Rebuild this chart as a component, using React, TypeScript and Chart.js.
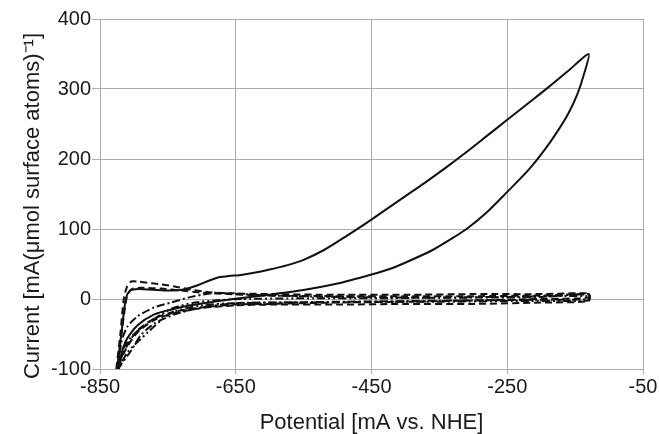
import React, { useEffect, useRef } from "react";
import { Chart, registerables } from "chart.js";

Chart.register(...registerables);

const xTicks = [-850, -650, -450, -250, -50];
const yTicks = [-100, 0, 100, 200, 300, 400];
const xTitle = "Potential [mA vs. NHE]";
const yTitle = "Current [mA(\u03bcmol surface atoms)\u207b\u00b9]";

// Solid: first cycle (forward branch, then return branch)
const solidX = [-825, -818, -812, -806, -798, -785, -765, -745, -725, -705, -690, -675, -660, -645, -625, -600, -575, -550, -520, -490, -460, -430, -400, -370, -340, -310, -280, -250, -220, -190, -160, -130,
  -138, -147, -160, -177, -195, -219, -250, -280, -310, -334, -360, -393, -420, -450, -500, -555, -610, -654, -690, -717, -740, -770, -795, -812, -825];
const solidY = [-100, -45, 0, 12, 14, 14, 13, 12, 14, 20, 26, 31, 33, 34, 37, 42, 48, 56, 70, 88, 107, 127, 147, 167, 188, 210, 233, 256, 279, 302, 326, 350,
  318, 292, 265, 238, 213, 184, 153, 124, 100, 85, 70, 55, 44, 35, 22, 12, 5, 0, -5, -9, -14, -22, -38, -60, -100];

// Dashed: second cycle
const dash1X = [-826, -820, -815, -810, -804, -795, -780, -760, -740, -720, -700, -680, -650, -600, -500, -400, -300, -200, -130,
  -130, -200, -300, -400, -500, -600, -650, -700, -740, -770, -795, -812, -826];
const dash1Y = [-100, -50, 0, 18, 25, 25, 23, 21, 18, 14, 11, 9, 8, 7, 6, 6, 7, 7, 8,
  2, 0, -2, -4, -5, -7, -8, -12, -18, -28, -45, -70, -100];

// Dashed: third cycle
const dash2X = [-825, -817, -810, -803, -790, -760, -730, -700, -660, -600, -500, -400, -300, -200, -130,
  -130, -200, -300, -400, -500, -600, -650, -700, -740, -770, -795, -812, -825];
const dash2Y = [-100, -40, 5, 14, 16, 15, 12, 9, 7, 5, 4, 4, 4, 5, 6,
  -3, -5, -7, -7, -8, -8, -9, -13, -20, -30, -48, -72, -100];

// Dash-dot: fourth cycle
const dd1X = [-824, -818, -810, -795, -770, -745, -720, -700, -680, -660, -600, -500, -400, -300, -200, -130,
  -130, -200, -300, -400, -500, -600, -650, -700, -740, -770, -790, -805, -824];
const dd1Y = [-100, -60, -40, -25, -12, -5, 2, 6, 9, 8, 5, 3, 2, 2, 3, 7,
  0, -1, -2, -3, -4, -5, -6, -12, -22, -35, -52, -75, -100];

// Dash-dot-dot: fifth cycle
const dd2X = [-822, -815, -800, -780, -760, -740, -710, -680, -640, -550, -450, -350, -250, -130,
  -130, -250, -350, -450, -550, -650, -700, -745, -780, -810, -822];
const dd2Y = [-100, -70, -50, -35, -22, -12, -5, -2, 0, 1, 1, 2, 3, 4,
  -2, -3, -4, -4, -5, -6, -9, -20, -48, -77, -100];

const toPts = (xs: number[], ys: number[]) => xs.map((x, i) => ({ x, y: ys[i] }));

const FONT = "'Liberation Sans', Arial, Helvetica, sans-serif";
const GRID = "#ababab";
const TEXT = "#1a1a1a";

const yTitlePlugin = {
  id: "yTitlePlugin",
  afterDraw(chart: any) {
    const ctx = chart.ctx;
    ctx.save();
    ctx.translate(33, 206);
    ctx.rotate(-Math.PI / 2);
    ctx.font = `22px ${FONT}`;
    ctx.fillStyle = TEXT;
    ctx.textAlign = "center";
    ctx.textBaseline = "middle";
    ctx.fillText(yTitle, 0, 0);
    ctx.restore();
  },
};

export default function App() {
  const ref = useRef<HTMLCanvasElement | null>(null);

  useEffect(() => {
    if (!ref.current) return;
    const mk = (label: string, xs: number[], ys: number[], dash: number[]) => ({
      label,
      data: toPts(xs, ys),
      showLine: true,
      borderColor: "#111111",
      backgroundColor: "#111111",
      borderWidth: 2,
      borderDash: dash,
      pointRadius: 0,
      tension: 0.25,
      fill: false,
    });
    const chart = new Chart(ref.current, {
      type: "scatter",
      data: {
        datasets: [
          mk("cycle 1", solidX, solidY, []),
          mk("cycle 2", dash1X, dash1Y, [7, 4]),
          mk("cycle 3", dash2X, dash2Y, [7, 4]),
          mk("cycle 4", dd1X, dd1Y, [8, 3, 2, 3]),
          mk("cycle 5", dd2X, dd2Y, [8, 3, 2, 3, 2, 3]),
        ],
      },
      options: {
        responsive: false,
        animation: false,
        layout: { padding: { left: 0, right: 16, top: 19, bottom: 0 } },
        plugins: { legend: { display: false }, tooltip: { enabled: false } },
        scales: {
          x: {
            type: "linear",
            min: -850,
            max: -50,
            afterBuildTicks: (s: any) => { s.ticks = xTicks.map((v) => ({ value: v })); },
            afterFit: (s: any) => { s.height = 65; },
            grid: { color: GRID, tickColor: GRID, tickLength: 5, lineWidth: 1 },
            border: { color: GRID },
            ticks: { color: TEXT, font: { family: FONT, size: 20 }, padding: 1, maxRotation: 0 },
            title: {
              display: true,
              text: xTitle,
              color: TEXT,
              font: { family: FONT, size: 22 },
              padding: { top: 0, bottom: -2 },
            },
          },
          y: {
            type: "linear",
            min: -100,
            max: 400,
            afterBuildTicks: (s: any) => { s.ticks = yTicks.map((v) => ({ value: v })); },
            afterFit: (s: any) => { s.width = 100; },
            grid: { color: GRID, tickColor: GRID, tickLength: 8, lineWidth: 1 },
            border: { color: GRID },
            ticks: { color: TEXT, font: { family: FONT, size: 20 }, padding: 1 },
            title: { display: false },
          },
        },
      },
      plugins: [yTitlePlugin],
    });
    return () => chart.destroy();
  }, []);

  return (
    <div style={{ position: "fixed", left: 0, top: 0, width: 659, height: 434, background: "#fff" }}>
      <canvas ref={ref} width={659} height={434} style={{ width: 659, height: 434 }} />
    </div>
  );
}
